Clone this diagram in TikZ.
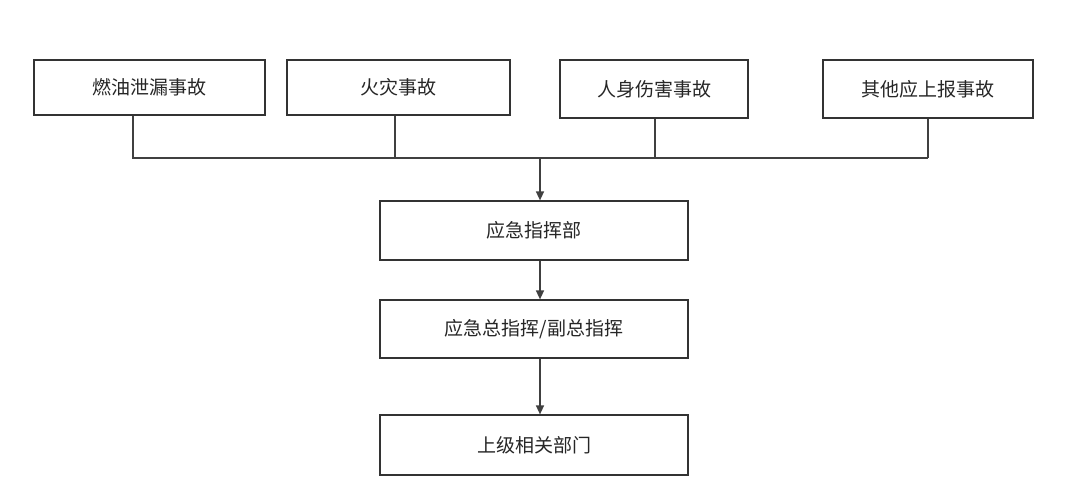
\documentclass[tikz,border=0pt]{standalone}
\usepackage{fontspec}
\setmainfont{Noto Sans CJK SC}
\usetikzlibrary{arrows.meta}
\begin{document}
\begin{tikzpicture}[x=1pt,y=-1pt,
  box/.style={draw=black!80,line width=1.2pt,inner sep=0pt,font=\fontsize{19}{22}\selectfont,text=black!85},
  ln/.style={draw=black!75,line width=1.4pt},
  arr/.style={ln,-{Triangle[length=9pt,width=8pt]}}]
\useasboundingbox (0,0) rectangle (1082,498);
\node[box,minimum width=231pt,minimum height=55pt] (a) at (149.5,87.5) {燃油泄漏事故};
\node[box,minimum width=223pt,minimum height=55pt] (b) at (398.5,87.5) {火灾事故};
\node[box,minimum width=188pt,minimum height=58pt] (c) at (654,89) {人身伤害事故};
\node[box,minimum width=210pt,minimum height=58pt] (d) at (928,89) {其他应上报事故};
\node[box,minimum width=308pt,minimum height=59pt] (e) at (534,230.5) {应急指挥部};
\node[box,minimum width=308pt,minimum height=58pt] (f) at (534,329) {应急总指挥/副总指挥};
\node[box,minimum width=308pt,minimum height=60pt] (g) at (534,445) {上级相关部门};
\coordinate (j) at (540,158);
\draw[ln] (a.south -| 133,0) -- (133,158) -- (928,158);
\draw[ln] (395,0 |- b.south) -- (395,158);
\draw[ln] (655,0 |- c.south) -- (655,158);
\draw[ln] (d.south -| 928,0) -- (928,158);
\draw[arr] (j) -- (j |- e.north);
\draw[arr] (e.south -| j) -- (j |- f.north);
\draw[arr] (f.south -| j) -- (j |- g.north);
\end{tikzpicture}
\end{document}
